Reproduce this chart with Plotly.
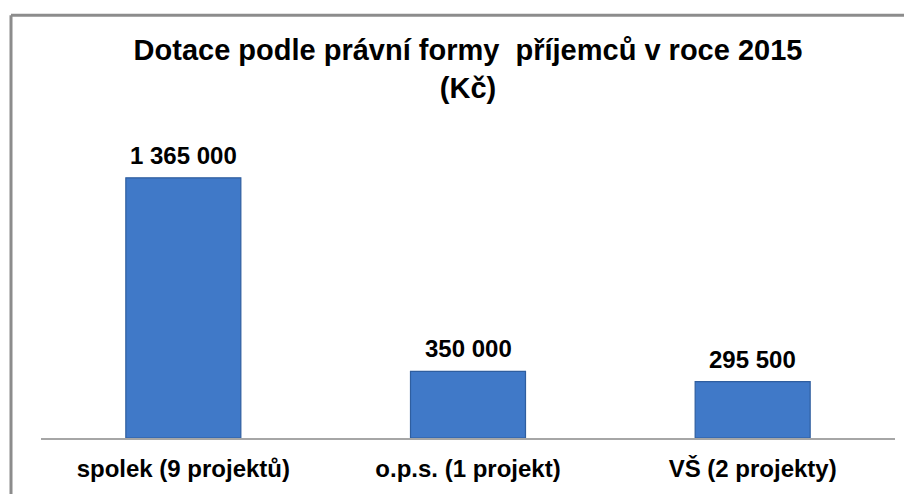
import plotly.graph_objects as go

categories = ["spolek (9 projektů)", "o.p.s. (1 projekt)", "VŠ (2 projekty)"]
values = [1365000, 350000, 295500]
value_labels = ["1 365 000", "350 000", "295 500"]

title_text = "Dotace podle právní formy  příjemců v roce 2015<br>(Kč)"

FONT = "Arial, Liberation Sans, sans-serif"

fig = go.Figure()
fig.add_trace(go.Bar(
    x=categories,
    y=values,
    width=0.404,
    marker=dict(color="#4079C8", line=dict(color="#2F5E9F", width=1.2)),
    hoverinfo="x+y",
))

annotations = []
for c, v, lab in zip(categories, values, value_labels):
    annotations.append(dict(
        x=c, y=v, xref="x", yref="y", text="<b>" + lab + "</b>",
        showarrow=False, yanchor="bottom", yshift=7,
        font=dict(family=FONT, size=24, color="#000000"),
    ))

W, H = 904, 486
plot_h = H - 92 - 51
ymax = plot_h / (264 / 1365000)

bx = (11 - 41) / 854
by = (443 - 14) / plot_h

fig.update_layout(
    width=W, height=H,
    margin=dict(l=33, r=17, t=92, b=51),
    paper_bgcolor="white", plot_bgcolor="white",
    separators=", ",
    showlegend=False,
    title=dict(
        text="<b>" + title_text + "</b>",
        x=0.5, xref="paper", xanchor="center",
        y=0.892, yref="container", yanchor="top",
        font=dict(family=FONT, size=29, color="#000000"),
    ),
    xaxis=dict(
        showline=True, linecolor="#A6A6A6", linewidth=1.5,
        ticks="", showgrid=False, zeroline=False,
        ticklabelstandoff=8,
        tickfont=dict(family=FONT, size=24, color="#000000", weight="bold"),
    ),
    yaxis=dict(
        range=[0, ymax], visible=False, showgrid=False, zeroline=False,
    ),
    annotations=annotations,
    shapes=[
        dict(type="line", xref="paper", yref="paper",
             x0=bx, x1=bx, y0=-0.2, y1=by,
             line=dict(color="#8C8C8C", width=3)),
        dict(type="line", xref="paper", yref="paper",
             x0=bx, x1=1.02, y0=by, y1=by,
             line=dict(color="#8C8C8C", width=3)),
    ],
)

fig.write_html("out.html")
